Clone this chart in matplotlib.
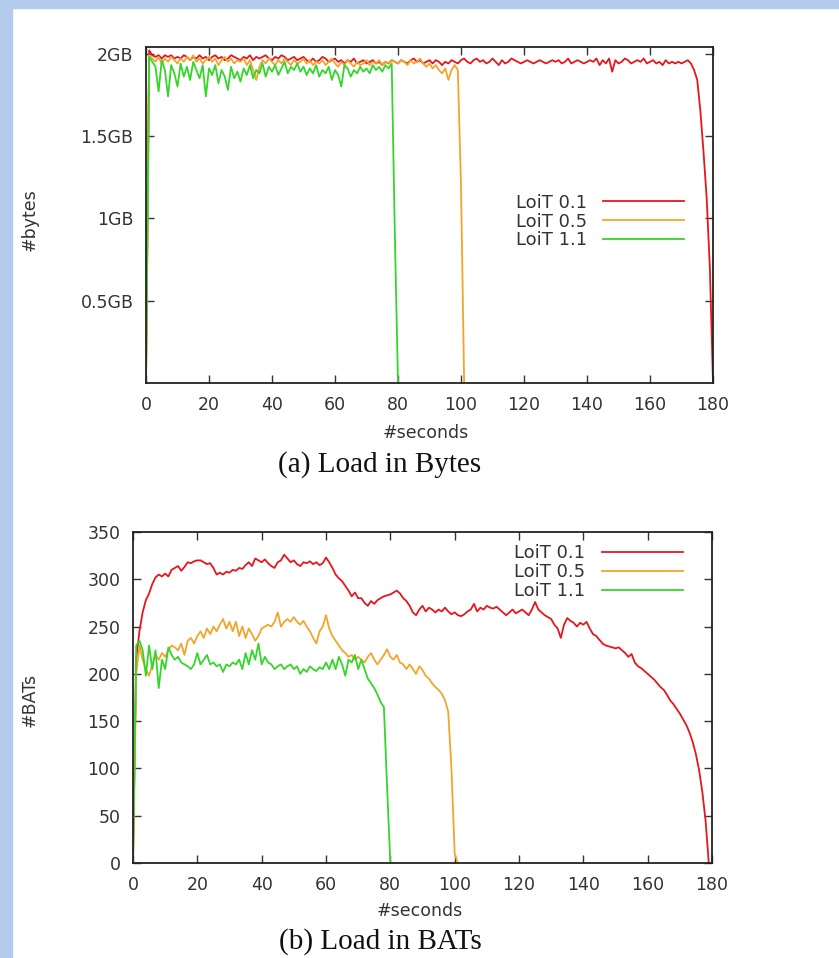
import matplotlib
matplotlib.use("Agg")
import matplotlib.pyplot as plt
import numpy as np
from matplotlib.patches import Rectangle

# ---------------- data ----------------
series_labels = ["LoiT 0.1", "LoiT 0.5", "LoiT 1.1"]
series_colors = ["#e5171d", "#f2a52c", "#34d62b"]

# (a) load in bytes (GB), one sample per second
bytes_loit01 = [
    0.00, 2.02, 1.99, 1.98, 1.99, 1.97, 1.99, 1.98, 1.99, 1.97,
    1.98, 1.97, 1.99, 1.98, 1.96, 1.98, 1.97, 1.99, 1.97, 1.98,
    1.96, 1.98, 1.99, 1.97, 1.98, 1.96, 1.97, 1.99, 1.98, 1.97,
    1.96, 1.98, 1.97, 1.99, 1.96, 1.98, 1.97, 1.98, 1.99, 1.97,
    1.96, 1.98, 1.97, 1.99, 1.98, 1.96, 1.97, 1.98, 1.96, 1.97,
    1.98, 1.96, 1.95, 1.97, 1.95, 1.96, 1.98, 1.97, 1.95, 1.96,
    1.97, 1.95, 1.96, 1.94, 1.96, 1.95, 1.97, 1.94, 1.95, 1.96,
    1.94, 1.95, 1.96, 1.94, 1.95, 1.93, 1.95, 1.94, 1.96, 1.95,
    1.94, 1.96, 1.95, 1.94, 1.96, 1.97, 1.95, 1.96, 1.94, 1.95,
    1.96, 1.94, 1.96, 1.95, 1.93, 1.95, 1.94, 1.96, 1.95, 1.94,
    1.96, 1.97, 1.95, 1.94, 1.96, 1.97, 1.95, 1.96, 1.94, 1.95,
    1.97, 1.95, 1.93, 1.96, 1.94, 1.95, 1.97, 1.96, 1.95, 1.94,
    1.95, 1.96, 1.95, 1.94, 1.95, 1.96, 1.95, 1.94, 1.95, 1.96,
    1.95, 1.96, 1.94, 1.95, 1.97, 1.94, 1.95, 1.96, 1.95, 1.94,
    1.95, 1.96, 1.95, 1.97, 1.93, 1.96, 1.94, 1.97, 1.89, 1.96,
    1.94, 1.95, 1.97, 1.96, 1.94, 1.95, 1.96, 1.95, 1.97, 1.94,
    1.95, 1.96, 1.94, 1.95, 1.93, 1.96, 1.94, 1.95, 1.94, 1.95,
    1.94, 1.95, 1.96, 1.94, 1.90, 1.84, 1.65, 1.40, 1.12, 0.70,
    0.00,
]
bytes_loit05 = [
    0.00, 1.99, 1.97, 1.95, 1.98, 1.94, 1.97, 1.95, 1.98, 1.96,
    1.94, 1.97, 1.95, 1.98, 1.96, 1.99, 1.95, 1.97, 1.94, 1.96,
    1.98, 1.95, 1.97, 1.93, 1.96, 1.98, 1.95, 1.97, 1.94, 1.96,
    1.95, 1.97, 1.93, 1.96, 1.90, 1.84, 1.92, 1.96, 1.94, 1.97,
    1.95, 1.93, 1.96, 1.94, 1.97, 1.95, 1.93, 1.96, 1.94, 1.95,
    1.97, 1.94, 1.96, 1.93, 1.95, 1.94, 1.96, 1.93, 1.95, 1.97,
    1.94, 1.92, 1.95, 1.93, 1.96, 1.94, 1.92, 1.95, 1.93, 1.94,
    1.96, 1.93, 1.95, 1.94, 1.96, 1.93, 1.95, 1.94, 1.96, 1.95,
    1.94, 1.96, 1.95, 1.93, 1.96, 1.94, 1.95, 1.97, 1.94, 1.92,
    1.94, 1.91, 1.93, 1.90, 1.88, 1.91, 1.84, 1.90, 1.93, 1.90,
    1.20, 0.00,
]
bytes_loit11 = [
    0.00, 1.98, 1.95, 1.92, 1.77, 1.96, 1.90, 1.74, 1.93, 1.88,
    1.80, 1.94, 1.86, 1.92, 1.84, 1.95, 1.90, 1.85, 1.93, 1.74,
    1.91, 1.87, 1.93, 1.82, 1.90, 1.86, 1.78, 1.92, 1.85, 1.89,
    1.83, 1.91, 1.87, 1.93, 1.85, 1.90, 1.88, 1.94, 1.86, 1.92,
    1.89, 1.93, 1.87, 1.91, 1.95, 1.88, 1.92, 1.90, 1.94, 1.89,
    1.92, 1.87, 1.91, 1.88, 1.93, 1.86, 1.90, 1.88, 1.92, 1.84,
    1.90, 1.87, 1.80, 1.93, 1.91, 1.86, 1.90, 1.88, 1.92, 1.89,
    1.91, 1.88, 1.93, 1.90, 1.92, 1.89, 1.93, 1.91, 1.94, 0.90,
    0.00,
]

# (b) load in BATs, one sample per second
bats_loit01 = [
    0, 215, 245, 265, 278, 285, 295, 302, 305, 303,
    306, 303, 310, 312, 314, 309, 313, 318, 317, 319,
    320, 320, 318, 316, 317, 312, 305, 307, 305, 308,
    307, 310, 309, 312, 311, 315, 318, 314, 322, 320,
    318, 321, 317, 314, 312, 318, 320, 326, 322, 318,
    320, 316, 314, 318, 317, 319, 316, 318, 315, 317,
    323, 318, 312, 305, 301, 298, 293, 288, 282, 286,
    280, 280, 275, 272, 277, 274, 278, 280, 282, 283,
    284, 286, 288, 285, 280, 277, 272, 265, 262, 268,
    272, 266, 270, 268, 265, 268, 266, 270, 266, 263,
    265, 262, 261, 263, 266, 268, 274, 266, 270, 268,
    272, 270, 269, 271, 268, 265, 262, 265, 268, 264,
    266, 268, 265, 262, 268, 276, 268, 265, 262, 260,
    258, 252, 248, 238, 252, 259, 256, 254, 250, 254,
    252, 255, 248, 242, 240, 236, 232, 230, 229, 228,
    227, 228, 225, 222, 218, 221, 212, 208, 206, 203,
    200, 197, 194, 190, 186, 183, 178, 172, 168, 163,
    158, 152, 146, 138, 128, 115, 98, 75, 45, 0,
]
bats_loit05 = [
    0, 200, 230, 215, 205, 198, 210, 220, 215, 222,
    218, 225, 230, 228, 225, 232, 220, 235, 238, 232,
    240, 245, 238, 248, 242, 250, 245, 252, 258, 248,
    255, 245, 255, 240, 250, 238, 248, 242, 235, 240,
    248, 250, 252, 250, 255, 265, 250, 255, 258, 255,
    260, 255, 252, 256, 250, 245, 238, 232, 245, 250,
    262, 248, 240, 235, 230, 225, 222, 218, 220, 215,
    218, 215, 212, 218, 222, 215, 210, 215, 220, 226,
    218, 215, 220, 212, 210, 205, 210, 205, 200, 208,
    204, 198, 195, 190, 186, 183, 179, 172, 160, 100,
    10, 0,
]
bats_loit11 = [
    0, 230, 235, 225, 198, 230, 205, 225, 185, 215,
    205, 228, 220, 215, 218, 212, 210, 208, 205, 210,
    222, 210, 215, 220, 210, 212, 208, 210, 202, 210,
    208, 212, 210, 215, 205, 222, 210, 225, 215, 232,
    210, 218, 212, 210, 205, 208, 210, 205, 208, 210,
    205, 208, 200, 205, 202, 208, 205, 203, 207, 205,
    212, 205, 215, 205, 218, 210, 198, 215, 212, 220,
    205, 215, 205, 195, 190, 185, 178, 170, 165, 80,
    0,
]

x_ticks = [0, 20, 40, 60, 80, 100, 120, 140, 160, 180]
bytes_ticks = [0.5, 1.0, 1.5, 2.0]
bytes_ticklabels = ["0.5GB", "1GB", "1.5GB", "2GB"]
bats_ticks = [0, 50, 100, 150, 200, 250, 300, 350]

# ---------------- figure ----------------
W, H = 839, 958
fig = plt.figure(figsize=(W / 100, H / 100), dpi=100)
fig.patch.set_facecolor("white")

bg = "#b2cbec"
fig.patches.append(Rectangle((0, 0), 12 / W, 1, transform=fig.transFigure,
                             color=bg, zorder=0))
fig.patches.append(Rectangle((0, 1 - 8 / H), 1, 8 / H, transform=fig.transFigure,
                             color=bg, zorder=0))

def fx(px):
    return px / W

def fy(py):
    return 1 - py / H

tick_font = dict(family="DejaVu Sans", size=12.5, color="#333333")

def style_axes(ax):
    for s in ax.spines.values():
        s.set_color("#222222")
        s.set_linewidth(1.3)
    ax.tick_params(direction="in", length=6, width=1.0, color="#333333",
                   top=True, right=True, pad=9,
                   labelsize=tick_font["size"], labelcolor=tick_font["color"])
    ax.set_xlim(0, 180)
    ax.set_xticks(x_ticks)
    for lab in ax.get_xticklabels() + ax.get_yticklabels():
        lab.set_family(tick_font["family"])

def draw_series(ax, data_list):
    for data, lab, col in zip(data_list, series_labels, series_colors):
        t = np.arange(len(data))
        ax.plot(t, data, color=col, lw=1.3, label=lab)

# top panel
ax1 = fig.add_axes([fx(146), fy(383), fx(713) - fx(146), fy(47) - fy(383)])
draw_series(ax1, [bytes_loit01, bytes_loit05, bytes_loit11])
ax1.set_ylim(0, 2.04)
ax1.set_yticks(bytes_ticks)
ax1.set_yticklabels(bytes_ticklabels)
style_axes(ax1)
leg1 = ax1.legend(loc="upper right", bbox_to_anchor=(0.962, 0.585), frameon=False,
                  markerfirst=False, handlelength=4.5, handletextpad=0.9,
                  labelspacing=0.05, borderaxespad=0,
                  prop=dict(family="DejaVu Sans", size=13))
for txt in leg1.get_texts():
    txt.set_color("#333333")

# bottom panel
ax2 = fig.add_axes([fx(133), fy(863), fx(712) - fx(133), fy(532) - fy(863)])
draw_series(ax2, [bats_loit01, bats_loit05, bats_loit11])
ax2.set_ylim(0, 350)
ax2.set_yticks(bats_ticks)
style_axes(ax2)
leg2 = ax2.legend(loc="upper right", bbox_to_anchor=(0.962, 0.985), frameon=False,
                  markerfirst=False, handlelength=4.5, handletextpad=0.9,
                  labelspacing=0.05, borderaxespad=0,
                  prop=dict(family="DejaVu Sans", size=13))
for txt in leg2.get_texts():
    txt.set_color("#333333")

# axis labels and captions
lab_font = dict(family="DejaVu Sans", size=12.5, color="#333333")
fig.text(fx(30), fy(220), "#bytes", rotation=90, ha="center", va="center", **lab_font)
fig.text(fx(30), fy(700), "#BATs", rotation=90, ha="center", va="center", **lab_font)
fig.text(fx(426), fy(433), "#seconds", ha="center", va="center", **lab_font)
fig.text(fx(420), fy(911), "#seconds", ha="center", va="center", **lab_font)

cap_font = dict(family="Liberation Serif", size=21, color="#111111")
fig.text(fx(380), fy(465), "(a) Load in Bytes", ha="center", va="center", **cap_font)
fig.text(fx(380), fy(942), "(b) Load in BATs", ha="center", va="center", **cap_font)

fig.savefig("out.png", dpi=100, facecolor=fig.get_facecolor())
